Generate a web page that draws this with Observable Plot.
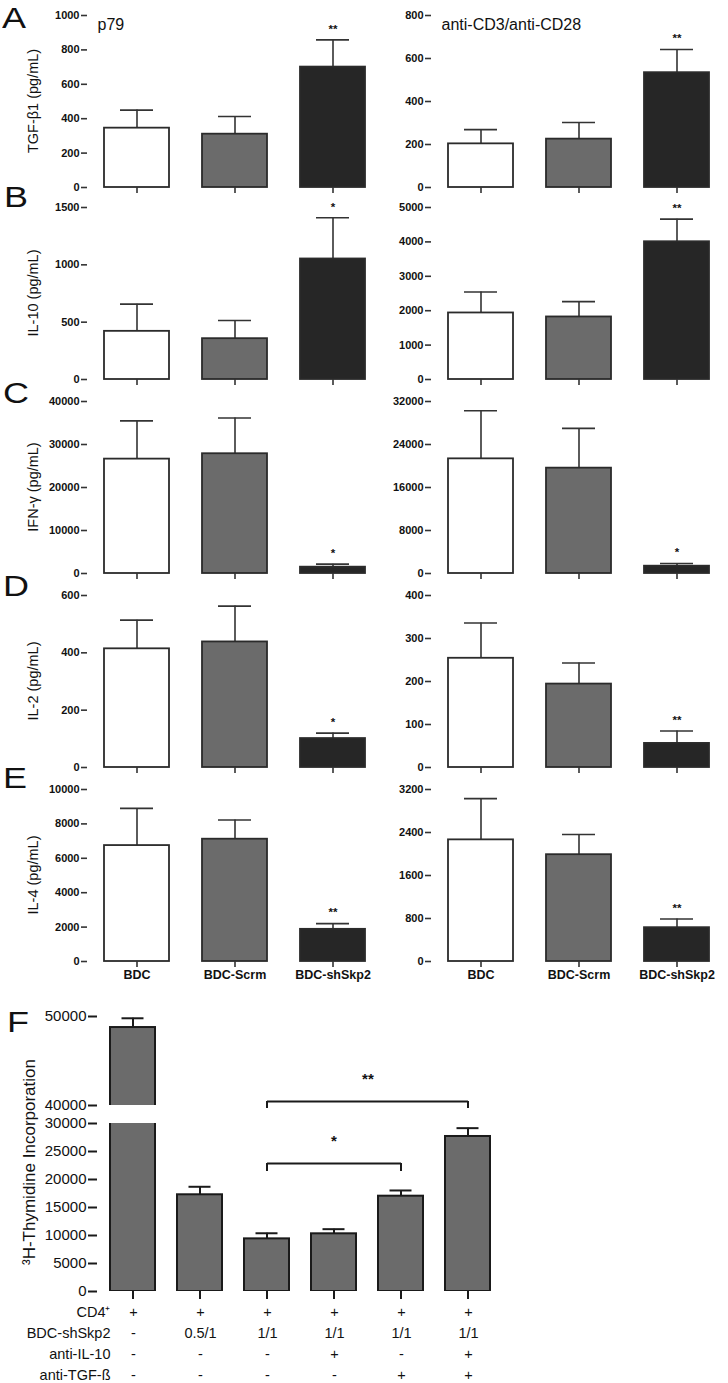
<!DOCTYPE html>
<html><head><meta charset="utf-8">
<script src="https://cdn.jsdelivr.net/npm/d3@7"></script>
<script src="https://cdn.jsdelivr.net/npm/@observablehq/plot@0.6"></script>
<style>
body{margin:0;background:#fff;}
#fig{position:relative;width:728px;height:1383px;background:#fff;font-family:"Liberation Sans",Arial,sans-serif;color:#111;overflow:hidden;}
#fig svg{position:absolute;overflow:visible;}
.letter{position:absolute;font-size:30px;line-height:1;transform:scaleX(1.2);transform-origin:left top;}
.ylab{position:absolute;width:240px;height:20px;line-height:20px;text-align:center;white-space:nowrap;transform:rotate(-90deg);transform-origin:center;}
</style></head><body><div id="fig"></div>
<script>
// ---------- data: panels A–E ----------
const groups = ["BDC", "BDC-Scrm", "BDC-shSkp2"];
const barColors = ["#ffffff", "#6b6b6b", "#262626"];

const tgfP79Mean = [345, 310, 700];
const tgfP79Upper = [450, 413, 858];
const tgfP79Sig = ["", "", "**"];
const tgfP79Ticks = [0, 200, 400, 600, 800, 1000];
const tgfCD3Mean = [203, 225, 534];
const tgfCD3Upper = [269, 302, 642];
const tgfCD3Sig = ["", "", "**"];
const tgfCD3Ticks = [0, 200, 400, 600, 800];

const il10P79Mean = [420, 356, 1051];
const il10P79Upper = [657, 515, 1410];
const il10P79Sig = ["", "", "*"];
const il10P79Ticks = [0, 500, 1000, 1500];
const il10CD3Mean = [1934, 1818, 4004];
const il10CD3Upper = [2544, 2263, 4662];
const il10CD3Sig = ["", "", "**"];
const il10CD3Ticks = [0, 1000, 2000, 3000, 4000, 5000];

const ifnP79Mean = [26600, 27850, 1470];
const ifnP79Upper = [35500, 36150, 2170];
const ifnP79Sig = ["", "", "*"];
const ifnP79Ticks = [0, 10000, 20000, 30000, 40000];
const ifnCD3Mean = [21330, 19600, 1360];
const ifnCD3Upper = [30270, 27000, 1850];
const ifnCD3Sig = ["", "", "*"];
const ifnCD3Ticks = [0, 8000, 16000, 24000, 32000];

const il2P79Mean = [414, 438, 101];
const il2P79Upper = [514, 563, 120];
const il2P79Sig = ["", "", "*"];
const il2P79Ticks = [0, 200, 400, 600];
const il2CD3Mean = [254, 194, 56];
const il2CD3Upper = [336, 243, 85];
const il2CD3Sig = ["", "", "**"];
const il2CD3Ticks = [0, 100, 200, 300, 400];

const il4P79Mean = [6740, 7110, 1870];
const il4P79Upper = [8900, 8230, 2200];
const il4P79Sig = ["", "", "**"];
const il4P79Ticks = [0, 2000, 4000, 6000, 8000, 10000];
const il4CD3Mean = [2263, 1987, 629];
const il4CD3Upper = [3030, 2364, 792];
const il4CD3Sig = ["", "", "**"];
const il4CD3Ticks = [0, 800, 1600, 2400, 3200];

const yLabels = ["TGF-β1 (pg/mL)", "IL-10 (pg/mL)", "IFN-γ (pg/mL)", "IL-2 (pg/mL)", "IL-4 (pg/mL)"];
const stimuli = ["p79", "anti-CD3/anti-CD28"];
const panelLetters = ["A", "B", "C", "D", "E", "F"];

// ---------- data: panel F ----------
const conditions = ["CD4⁺", "0.5/1", "1/1", "1/1 + anti-IL-10", "1/1 + anti-TGF-ß", "1/1 + both"];
const thymMean = [48760, 17270, 9400, 10300, 17020, 27680];
const thymUpper = [49800, 18700, 10400, 11130, 18040, 29170];
const thymTicksLower = [0, 5000, 10000, 15000, 20000, 25000, 30000];
const thymTicksUpper = [40000, 50000];
const thymLabel = "³H-Thymidine Incorporation";
const rowLabels = ["CD4⁺", "BDC-shSkp2", "anti-IL-10", "anti-TGF-ß"];
const cd4Row = ["+", "+", "+", "+", "+", "+"];
const shSkp2Row = ["-", "0.5/1", "1/1", "1/1", "1/1", "1/1"];
const antiIL10Row = ["-", "-", "-", "+", "-", "+"];
const antiTGFRow = ["-", "-", "-", "-", "+", "+"];
// significance brackets (bar indices, bracket level, leg end, label)
const bracketFrom = [2, 2];
const bracketTo = [5, 4];
const bracketLevel = [40450, 22850];
const bracketLegEnd = [39660, 21430];
const bracketText = ["**", "*"];

// ---------- layout ----------
const fig = document.getElementById("fig");
const FONT = "'Liberation Sans', Arial, sans-serif";
const rowTops = [15, 207, 401, 595, 789];
const PH = 172;
const plain = d => String(d);

function addYLabel(text, cx, cy, size) {
  const d = document.createElement("div");
  d.className = "ylab";
  d.textContent = text;
  d.style.fontSize = size + "px";
  d.style.left = (cx - 120) + "px";
  d.style.top = (cy - 10) + "px";
  fig.append(d);
}

function cytoPanel(row, side, mean, upper, sig, ticks) {
  const left = side === 0;
  const showLabels = row === 4;
  const mt = 14, mb = showLabels ? 30 : 12;
  const width = left ? 385 : 343;
  const ml = left ? 87 : 46, mr = left ? 4 : 3;
  const data = groups.map((g, i) => ({group: g, mean: mean[i], upper: upper[i], sig: sig[i]}));
  const marks = [
    Plot.ruleX(data, {x: "group", y1: "mean", y2: "upper", stroke: "#333", strokeWidth: 1.6}),
    Plot.tickY(data, {x: "group", y: "upper", stroke: "#333", strokeWidth: 1.6, insetLeft: 16, insetRight: 16}),
    Plot.barY(data, {x: "group", y: "mean", fill: "group", stroke: "#2b2b2b", strokeWidth: 1.8}),
    Plot.text(data.filter(d => d.sig), {x: "group", y: "upper", text: "sig", dy: -11, fontSize: 11.5, fontWeight: "bold"}),
    Plot.axisY({ticks, tickFormat: plain, tickSize: 6, tickPadding: 2, fontSize: 11, fontWeight: "bold", line: true, stroke: "#333", strokeWidth: 1.6, label: null}),
    Plot.axisX({tickSize: 6, tickPadding: 3, line: true, stroke: "#333", strokeWidth: 1.6, label: null,
      fontSize: 12.5, fontWeight: "bold", tickFormat: showLabels ? plain : (() => "")})
  ];
  if (row === 0) marks.push(Plot.text([stimuli[side]], {text: d => d, frameAnchor: "top-left", textAnchor: "start", dx: 10, dy: 3, fontSize: 16}));
  const svg = Plot.plot({
    width, height: mt + PH + mb, marginTop: mt, marginBottom: mb, marginLeft: ml, marginRight: mr,
    x: {domain: groups, paddingInner: 0.337, paddingOuter: 0.1685, label: null},
    y: {domain: [0, ticks[ticks.length - 1]], label: null},
    color: {domain: groups, range: barColors},
    style: {background: "none", fontFamily: FONT, color: "#111", overflow: "visible"},
    marks
  });
  svg.style.left = (left ? 0 : 385) + "px";
  svg.style.top = (rowTops[row] - mt) + "px";
  fig.append(svg);
  if (left) addYLabel(yLabels[row], 33, rowTops[row] + PH / 2, 14.5);
}

cytoPanel(0, 0, tgfP79Mean, tgfP79Upper, tgfP79Sig, tgfP79Ticks);
cytoPanel(0, 1, tgfCD3Mean, tgfCD3Upper, tgfCD3Sig, tgfCD3Ticks);
cytoPanel(1, 0, il10P79Mean, il10P79Upper, il10P79Sig, il10P79Ticks);
cytoPanel(1, 1, il10CD3Mean, il10CD3Upper, il10CD3Sig, il10CD3Ticks);
cytoPanel(2, 0, ifnP79Mean, ifnP79Upper, ifnP79Sig, ifnP79Ticks);
cytoPanel(2, 1, ifnCD3Mean, ifnCD3Upper, ifnCD3Sig, ifnCD3Ticks);
cytoPanel(3, 0, il2P79Mean, il2P79Upper, il2P79Sig, il2P79Ticks);
cytoPanel(3, 1, il2CD3Mean, il2CD3Upper, il2CD3Sig, il2CD3Ticks);
cytoPanel(4, 0, il4P79Mean, il4P79Upper, il4P79Sig, il4P79Ticks);
cytoPanel(4, 1, il4CD3Mean, il4CD3Upper, il4CD3Sig, il4CD3Ticks);

// ---------- panel F (broken y axis: two stacked plots) ----------
const fData = conditions.map((c, i) => ({cond: c, mean: thymMean[i], upper: thymUpper[i]}));
const brackets = bracketFrom.map((f, i) => ({
  from: conditions[f], to: conditions[bracketTo[i]], level: bracketLevel[i], legEnd: bracketLegEnd[i],
  label: bracketText[i], midIndex: Math.floor((f + bracketTo[i]) / 2), half: (f + bracketTo[i]) % 2 === 1
}));
const FX = {domain: conditions, range: [97, 504], paddingInner: 0.3235, paddingOuter: 0.16175, label: null};
const fStep = (504 - 97) / conditions.length;

function thymPlot(part) {
  const up = part === "upper";
  const mt = up ? 20 : 13, mb = up ? 9 : 12;
  const ph = up ? 89 : 168;
  const top = up ? 996 : 1110;
  const ticks = up ? thymTicksUpper : thymTicksLower;
  const bs = brackets.filter(b => up ? b.level >= 40000 : b.level < 40000);
  const marks = [
    Plot.ruleX(fData, {x: "cond", y1: "mean", y2: "upper", stroke: "#1a1a1a", strokeWidth: 2, clip: true}),
    Plot.tickY(fData, {x: "cond", y: "upper", stroke: "#1a1a1a", strokeWidth: 2, insetLeft: 11.5, insetRight: 11.5, clip: true}),
    Plot.barY(fData, {x: "cond", y1: 0, y2: "mean", fill: "#6b6b6b", stroke: "#1a1a1a", strokeWidth: 2, clip: true}),
    Plot.axisY({ticks, tickFormat: plain, tickSize: 9, tickPadding: 2, fontSize: 15, line: true, stroke: "#1a1a1a", strokeWidth: 2, label: null}),
    Plot.link(bs, {x1: "from", x2: "to", y1: "level", y2: "level", stroke: "#1a1a1a", strokeWidth: 2}),
    Plot.ruleX(bs, {x: "from", y1: "level", y2: "legEnd", stroke: "#1a1a1a", strokeWidth: 2}),
    Plot.ruleX(bs, {x: "to", y1: "level", y2: "legEnd", stroke: "#1a1a1a", strokeWidth: 2})
  ];
  bs.forEach(b => {
    marks.push(Plot.text([b], {x: d => conditions[d.midIndex], dx: b.half ? fStep / 2 : 0, y: "level", text: "label", dy: -22, fontSize: 15, fontWeight: "bold"}));
  });
  if (!up) marks.push(Plot.axisX({tickSize: 8, line: true, stroke: "#1a1a1a", strokeWidth: 2, label: null, tickFormat: () => ""}));
  const svg = Plot.plot({
    width: 510, height: mt + ph + mb, marginTop: mt, marginBottom: mb, marginLeft: 97, marginRight: 6,
    x: up ? {...FX, axis: null} : FX,
    y: {domain: up ? [40000, 50000] : [0, 30000], label: null},
    style: {background: "none", fontFamily: FONT, color: "#111", overflow: "visible"},
    marks
  });
  svg.style.left = "0px";
  svg.style.top = top + "px";
  fig.append(svg);
}
thymPlot("upper");
thymPlot("lower");
addYLabel(thymLabel, 30, 1162, 17);

// treatment table under panel F
const tableRows = [cd4Row, shSkp2Row, antiIL10Row, antiTGFRow];
const tableData = rowLabels.flatMap((r, j) => tableRows[j].map((v, i) => ({row: r, cond: conditions[i], value: v})));
{
  const svg = Plot.plot({
    width: 510, height: 85, marginTop: 0, marginBottom: 0, marginLeft: 113, marginRight: 6,
    x: {...FX, axis: null},
    y: {domain: rowLabels, type: "point", range: [12, 75], padding: 0, label: null},
    style: {background: "none", fontFamily: FONT, color: "#111", overflow: "visible"},
    marks: [
      Plot.text(tableData, {x: "cond", y: "row", text: "value", fontSize: 14.5}),
      Plot.axisY({tickSize: 0, tickPadding: 3, fontSize: 14.5, label: null})
    ]
  });
  svg.style.left = "0px";
  svg.style.top = "1300px";
  fig.append(svg);
}

// panel letters
const letterPos = [[2, 2.5], [4, 181.5], [3, 377.5], [3, 570.5], [3, 762.5], [7, 1006.5]];
panelLetters.forEach((t, i) => {
  const d = document.createElement("div");
  d.className = "letter";
  d.textContent = t;
  d.style.left = letterPos[i][0] + "px";
  d.style.top = letterPos[i][1] + "px";
  fig.append(d);
});
</script></body></html>
